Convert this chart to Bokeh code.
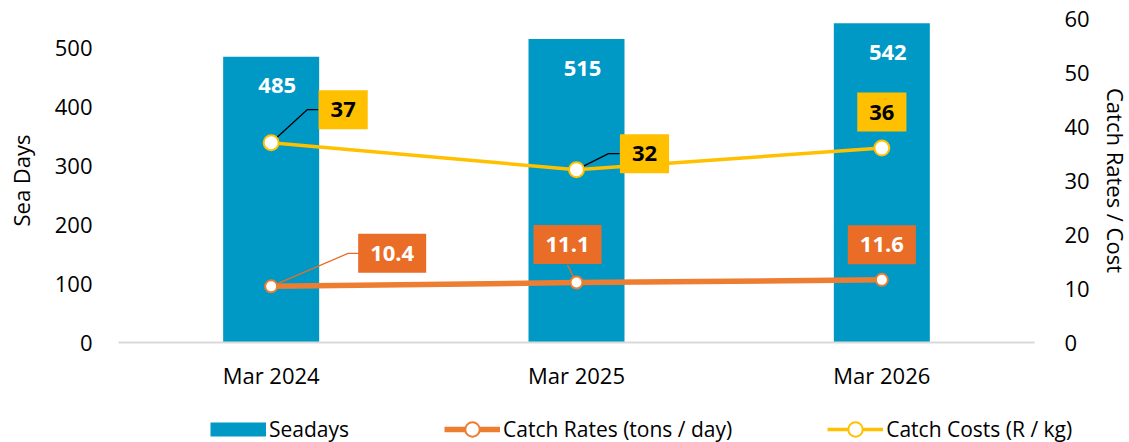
from bokeh.plotting import figure
from bokeh.layouts import column
from bokeh.models import (ColumnDataSource, Range1d, LinearAxis, LabelSet, Legend,
                          LegendItem, FixedTicker, FactorRange)
from bokeh.core.properties import value
from bokeh.embed import file_html
from bokeh.resources import INLINE

# ---------------- data ----------------
categories = ["Mar 2024", "Mar 2025", "Mar 2026"]
seadays = [485, 515, 542]
catch_rates = [10.4, 11.1, 11.6]
catch_costs = [37, 32, 36]
left_ticks = [0, 100, 200, 300, 400, 500]
right_ticks = [0, 10, 20, 30, 40, 50, 60]
LEFT_MAX = 550
RIGHT_MAX = 60

# ---------------- styling ----------------
FONT = "Open Sans"
BLUE = "#0099C6"
ORANGE_LINE = "#ED7D31"
ORANGE_BOX = "#EA6D27"
YELLOW = "#FFC000"

BL, BT, BB = 118, 18, 58
FRAME_W, FRAME_H = 916, 324
PX_PER_BAND = FRAME_W / len(categories)
PX_PER_Y2 = FRAME_H / RIGHT_MAX
LEG_W, LEG_H = 1128, 42

# label offsets in screen px (x right, y up) relative to each point
cost_dx, cost_dy = [72, 68, 0], [33, 16, 36]
rate_dx, rate_dy = [121, -9, 0], [33, 38, 35]
cost_leader = ["side", "side", None]
rate_leader = ["side", "below", None]
BOX_PAD = 12
BOX_HALF_H = 20.5


def fmt(v):
    return f"{v:g}"


def half_w(txt):
    return 25 if len(txt) <= 2 else 33


def leaders(vals, dxs, dys, kinds):
    xs, ys = [], []
    for i, (v, dx, dy, k) in enumerate(zip(vals, dxs, dys, kinds)):
        if k is None:
            continue
        hw = half_w(fmt(v))
        if k == "side":
            pts = [(0, 0), (dx - hw - 11, dy), (dx - hw, dy)]
        else:
            pts = [(0, 0), (dx, dy - BOX_HALF_H)]
        xs.append([i + 0.5 + px / PX_PER_BAND for px, _ in pts])
        ys.append([v + py / PX_PER_Y2 for _, py in pts])
    return xs, ys


p = figure(x_range=FactorRange(factors=categories, range_padding=0),
           y_range=Range1d(0, LEFT_MAX), frame_width=FRAME_W, frame_height=FRAME_H,
           output_backend="svg", toolbar_location=None,
           min_border_left=BL, min_border_right=0, min_border_top=BT,
           min_border_bottom=BB)
p.extra_y_ranges = {"right": Range1d(0, RIGHT_MAX)}
p.outline_line_color = None
p.xgrid.visible = False
p.ygrid.visible = False
p.background_fill_color = "white"
p.border_fill_color = "white"

# axes
p.xaxis.axis_line_color = "#D9D9D9"
p.xaxis.axis_line_width = 2
p.xaxis.major_tick_line_color = None
p.xaxis.major_tick_out = 0
p.xaxis.major_tick_in = 0
p.xaxis.minor_tick_line_color = None
p.xaxis.major_label_text_font = FONT
p.xaxis.major_label_text_font_size = "22px"
p.xaxis.major_label_text_color = "black"
p.xaxis.major_label_standoff = 17

ly = p.yaxis[0]
ly.ticker = FixedTicker(ticks=left_ticks)
ly.axis_line_color = None
ly.major_tick_line_color = None
ly.major_tick_out = 0
ly.major_tick_in = 0
ly.minor_tick_line_color = None
ly.major_label_text_font = FONT
ly.major_label_text_font_size = "22px"
ly.major_label_text_color = "black"
ly.major_label_standoff = 26
ly.axis_label = "Sea Days"
ly.axis_label_text_font = FONT
ly.axis_label_text_font_size = "22px"
ly.axis_label_text_font_style = "normal"
ly.axis_label_text_color = "black"
ly.axis_label_standoff = 16

ry = LinearAxis(y_range_name="right", ticker=FixedTicker(ticks=right_ticks))
ry.axis_line_color = None
ry.major_tick_line_color = None
ry.major_tick_out = 0
ry.major_tick_in = 0
ry.minor_tick_line_color = None
ry.major_label_text_font = FONT
ry.major_label_text_font_size = "22px"
ry.major_label_text_color = "black"
ry.major_label_standoff = 30
ry.axis_label = "Catch Rates / Cost"
ry.axis_label_text_font = FONT
ry.axis_label_text_font_size = "22px"
ry.axis_label_text_font_style = "normal"
ry.axis_label_text_color = "black"
ry.axis_label_standoff = 8
p.add_layout(ry, "right")

# bars
bar_src = ColumnDataSource(dict(x=categories, top=seadays, text=[fmt(v) for v in seadays]))
p.vbar(x="x", top="top", width=96 / PX_PER_BAND, source=bar_src,
       fill_color=BLUE, line_color=None)
p.add_layout(LabelSet(x="x", y="top", text="text", source=bar_src, x_offset=6, y_offset=-29,
                      text_align="center", text_baseline="middle",
                      text_font=value(FONT), text_font_style="bold",
                      text_font_size="22px", text_color="white"))

# lines
rate_src = ColumnDataSource(dict(x=categories, y=catch_rates, text=[fmt(v) for v in catch_rates],
                                 dx=rate_dx, dy=[-d for d in rate_dy]))
cost_src = ColumnDataSource(dict(x=categories, y=catch_costs, text=[fmt(v) for v in catch_costs],
                                 dx=cost_dx, dy=[-d for d in cost_dy]))

RATE_LINE = dict(line_color=ORANGE_LINE, line_width=5.5)
COST_LINE = dict(line_color=YELLOW, line_width=3.5)
RATE_MARK = dict(fill_color="white", line_color=ORANGE_LINE, line_width=2)
COST_MARK = dict(fill_color="white", line_color=YELLOW, line_width=2)

p.line("x", "y", source=rate_src, y_range_name="right", **RATE_LINE)
p.line("x", "y", source=cost_src, y_range_name="right", **COST_LINE)

# leader lines
lx, lyy = leaders(catch_rates, rate_dx, rate_dy, rate_leader)
p.multi_line(xs=lx, ys=lyy, y_range_name="right", line_color=ORANGE_BOX, line_width=1.3)
lx, lyy = leaders(catch_costs, cost_dx, cost_dy, cost_leader)
p.multi_line(xs=lx, ys=lyy, y_range_name="right", line_color="black", line_width=1.3)

p.scatter("x", "y", source=rate_src, y_range_name="right", size=12, **RATE_MARK)
p.scatter("x", "y", source=cost_src, y_range_name="right", size=15, **COST_MARK)

p.text(x="x", y="y", text="text", source=rate_src, y_range_name="right",
       x_offset="dx", y_offset="dy", text_align="center", text_baseline="middle",
       text_font=value(FONT), text_font_style="bold", text_font_size="22px",
       text_color="white", background_fill_color=ORANGE_BOX, padding=BOX_PAD)
p.text(x="x", y="y", text="text", source=cost_src, y_range_name="right",
       x_offset="dx", y_offset="dy", text_align="center", text_baseline="middle",
       text_font=value(FONT), text_font_style="bold", text_font_size="22px",
       text_color="black", background_fill_color=YELLOW, padding=BOX_PAD)

# ---------------- legend strip (separate figure; its series lie outside its view) ----------------
lf = figure(width=LEG_W, height=LEG_H,
            x_range=FactorRange(factors=categories, range_padding=0),
            y_range=Range1d(-2000, -1999),
            output_backend="svg", toolbar_location=None,
            x_axis_location=None, y_axis_location=None,
            min_border=0, min_border_left=0, min_border_right=0,
            min_border_top=0, min_border_bottom=0)
lf.outline_line_color = None
lf.xgrid.visible = False
lf.ygrid.visible = False
lf.border_fill_color = "white"
lf.background_fill_color = "white"

aligned = True
for fig in (p, lf):
    if "frame_align" in fig.properties():
        fig.frame_align = False
        aligned = False

sw_bar = lf.line(x="x", y="top", source=bar_src, line_color=BLUE, line_width=14, line_cap="butt")
sw_rate_l = lf.line("x", "y", source=rate_src, **RATE_LINE)
sw_rate_m = lf.scatter("x", "y", source=rate_src, size=12, **RATE_MARK)
sw_cost_l = lf.line("x", "y", source=cost_src, **COST_LINE)
sw_cost_m = lf.scatter("x", "y", source=cost_src, size=15, **COST_MARK)

legend = Legend(items=[LegendItem(label="Seadays", renderers=[sw_bar]),
                       LegendItem(label="Catch Rates (tons / day)", renderers=[sw_rate_l, sw_rate_m]),
                       LegendItem(label="Catch Costs (R / kg)", renderers=[sw_cost_l, sw_cost_m])],
                location=(92 if aligned else 210, -5), orientation="horizontal",
                glyph_width=56, glyph_height=36, label_standoff=3, spacing=95,
                label_text_font=FONT, label_text_font_size="21px",
                label_text_color="black", padding=0, margin=0,
                background_fill_alpha=0, border_line_alpha=0)
lf.add_layout(legend, "center")

open("out.html", "w").write(file_html(column(p, lf, spacing=0), INLINE))
